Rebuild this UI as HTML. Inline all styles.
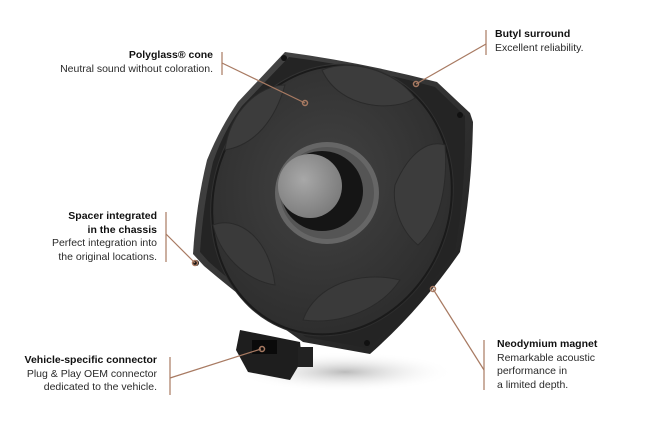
<!DOCTYPE html>
<html><head><meta charset="utf-8"><style>
html,body{margin:0;padding:0;background:#fff;width:662px;height:427px;overflow:hidden}
.t{position:absolute;font-family:"Liberation Sans",sans-serif;font-size:10.5px;line-height:13.6px;color:#2a2a2a;white-space:nowrap}
.t b{color:#111}
.r{text-align:right}
</style></head><body>
<svg width="662" height="427" style="position:absolute;left:0;top:0">
<defs>
<radialGradient id="sh" cx="0.5" cy="0.5" r="0.5"><stop offset="0" stop-color="#bbb"/><stop offset="1" stop-color="#fff" stop-opacity="0"/></radialGradient>
<linearGradient id="fr" x1="0" y1="0" x2="1" y2="1"><stop offset="0" stop-color="#4a4a4a"/><stop offset="1" stop-color="#1c1c1c"/></linearGradient>
<radialGradient id="cone" cx="0.45" cy="0.45" r="0.6"><stop offset="0" stop-color="#434343"/><stop offset="1" stop-color="#2c2c2c"/></radialGradient>
<radialGradient id="cap" cx="0.4" cy="0.4" r="0.7"><stop offset="0" stop-color="#a8a8a8"/><stop offset="1" stop-color="#777"/></radialGradient>
</defs>
<ellipse cx="345" cy="372" rx="110" ry="20" fill="url(#sh)"/>
<path d="M285,52 Q360,62 437,82 L470,113 L473,122 Q472,190 460,252 Q420,310 370,354 L303,342 Q250,305 204,266 L193,254 Q196,205 207,160 Q220,128 238,102 Z" fill="url(#fr)"/>
<path d="M289,57 Q360,66 435,87 L465,116 Q466,190 455,250 Q418,305 368,348 L306,337 Q252,300 209,262 L200,252 Q203,205 213,162 Q224,130 242,106 Z" fill="#242424"/>
<ellipse cx="332" cy="200" rx="120" ry="138" transform="rotate(18 332 200)" fill="url(#cone)"/>
<ellipse cx="332" cy="200" rx="118" ry="136" transform="rotate(18 332 200)" fill="none" stroke="#1a1a1a" stroke-width="2"/>
<path d="M322,70 C350,58 395,70 415,98 C395,112 340,110 322,70Z" fill="#3c3c3c" stroke="#2a2a2a"/>
<path d="M225,150 C230,110 260,85 285,85 C275,120 255,145 225,150Z" fill="#3c3c3c" stroke="#2a2a2a"/>
<path d="M213,225 C240,215 270,240 275,285 C245,280 220,255 213,225Z" fill="#3a3a3a" stroke="#2a2a2a"/>
<path d="M303,320 C315,285 360,270 400,280 C380,310 340,325 303,320Z" fill="#3a3a3a" stroke="#2a2a2a"/>
<path d="M395,185 C410,150 430,140 445,145 C448,185 440,225 418,245 C400,230 392,205 395,185Z" fill="#3c3c3c" stroke="#2a2a2a"/>
<ellipse cx="327" cy="193" rx="52" ry="51" fill="#666"/>
<ellipse cx="327" cy="193" rx="47" ry="46" fill="#555"/>
<ellipse cx="322" cy="191" rx="41" ry="40" fill="#151515"/>
<ellipse cx="310" cy="186" rx="32" ry="32" fill="url(#cap)"/>
<polygon points="240,330 300,342 302,360 290,380 248,372 236,350" fill="#1e1e1e"/>
<rect x="252" y="340" width="25" height="14" fill="#0a0a0a"/>
<rect x="298" y="347" width="15" height="20" fill="#222"/>
<circle cx="284" cy="58" r="3" fill="#111"/><circle cx="460" cy="115" r="3" fill="#111"/>
<circle cx="367" cy="343" r="3" fill="#111"/><circle cx="196" cy="263" r="3" fill="#111"/>
<g stroke="#a87a62" stroke-width="1.2" fill="none">
<line x1="222" y1="52" x2="222" y2="75"/><line x1="222" y1="63" x2="305" y2="103"/>
<line x1="486" y1="30" x2="486" y2="55"/><line x1="486" y1="44" x2="416" y2="84"/>
<line x1="166" y1="212" x2="166" y2="262"/><line x1="166" y1="234" x2="195" y2="263"/>
<line x1="170" y1="357" x2="170" y2="395"/><line x1="170" y1="378" x2="261" y2="349"/>
<line x1="484" y1="340" x2="484" y2="390"/><line x1="484" y1="370" x2="433" y2="289"/>
<circle cx="305" cy="103" r="2.5" stroke-width="1.5"/><circle cx="416" cy="84" r="2.5" stroke-width="1.5"/>
<circle cx="195" cy="263" r="2.5" stroke-width="1.5"/><circle cx="433" cy="289" r="2.5" stroke-width="1.5"/>
<circle cx="262" cy="349" r="2.5" stroke-width="1.5"/>
</g>
</svg>
<div class="t r" style="right:449px;top:49px"><b>Polyglass® cone</b><br>Neutral sound without coloration.</div>
<div class="t" style="left:495px;top:28px"><b>Butyl surround</b><br>Excellent reliability.</div>
<div class="t r" style="right:505px;top:210px"><b>Spacer integrated<br>in the chassis</b><br>Perfect integration into<br>the original locations.</div>
<div class="t r" style="right:505px;top:354px"><b>Vehicle-specific connector</b><br>Plug &amp; Play OEM connector<br>dedicated to the vehicle.</div>
<div class="t" style="left:497px;top:338px"><b>Neodymium magnet</b><br>Remarkable acoustic<br>performance in<br>a limited depth.</div>
</body></html>
